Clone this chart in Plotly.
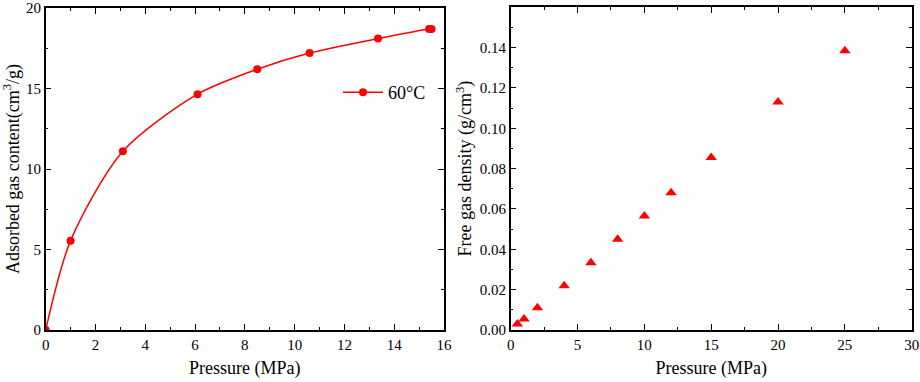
import plotly.graph_objects as go

# Left panel data: adsorbed gas content at 60°C
pressure_ads = [0.0, 1.0, 3.1, 6.1, 8.5, 10.6, 13.35, 15.4, 15.5]
adsorbed = [0.0, 5.55, 11.1, 14.65, 16.2, 17.2, 18.1, 18.7, 18.7]

# Right panel data: free gas density
pressure_free = [0.5, 1, 2, 4, 6, 8, 10, 12, 15, 20, 25]
density = [0.003, 0.0055, 0.011, 0.022, 0.0333, 0.045, 0.0565, 0.068, 0.0855, 0.113, 0.1385]

FONT = "Times New Roman"
W, H = 920, 382

fig = go.Figure()

fig.add_trace(go.Scatter(
    x=pressure_ads, y=adsorbed, mode="lines+markers", name="60°C",
    line=dict(color="#ff0000", width=1.5, shape="spline", smoothing=0.8),
    marker=dict(color="#ff0000", size=8, symbol="circle"),
    xaxis="x", yaxis="y", showlegend=True,
))

fig.add_trace(go.Scatter(
    x=pressure_free, y=density, mode="markers", name="density",
    marker=dict(color="#ff0000", size=10, symbol="triangle-up"),
    xaxis="x2", yaxis="y2", showlegend=False,
))

yb = 1 - 330 / H
yt = 1 - 8 / H

common = dict(
    showline=True, linecolor="black", linewidth=1.5, mirror="allticks",
    ticks="inside", ticklen=6, tickwidth=1.3, tickcolor="black",
    showgrid=False, zeroline=False, automargin=False,
    tickfont=dict(family=FONT, size=15, color="black"),
    title_font=dict(family=FONT, size=18, color="black"),
)

fig.update_layout(
    width=W, height=H,
    margin=dict(l=0, r=0, t=0, b=0, autoexpand=False),
    paper_bgcolor="white", plot_bgcolor="white",
    font=dict(family=FONT, color="black"),
    xaxis=dict(domain=[45.7 / W, 444 / W], range=[0, 16], dtick=2, anchor="y",
               title=dict(text="Pressure (MPa)", standoff=10),
               minor=dict(ticks="inside", ticklen=3, dtick=1, tickcolor="black"),
               **common),
    yaxis=dict(domain=[yb, yt], range=[0, 20], dtick=5, anchor="x",
               title=dict(text="Adsorbed gas content(cm<sup>3</sup>/g)", standoff=8),
               minor=dict(ticks="inside", ticklen=3, dtick=2.5, tickcolor="black"),
               **common),
    xaxis2=dict(domain=[510.7 / W, 911.7 / W], range=[0, 30], dtick=5, anchor="y2",
                title=dict(text="Pressure (MPa)", standoff=10),
                minor=dict(ticks="inside", ticklen=3, dtick=2.5, tickcolor="black"),
                **common),
    yaxis2=dict(domain=[yb, 1 - 7.3 / H], range=[0, 0.16], dtick=0.02, tickformat=".2f",
                anchor="x2",
                title=dict(text="Free gas density (g/cm<sup>3</sup>)", standoff=3),
                minor=dict(ticks="inside", ticklen=3, dtick=0.01, tickcolor="black"),
                **common),
    legend=dict(x=338 / W, y=1 - 74 / H, xanchor="left", yanchor="top",
                bgcolor="rgba(0,0,0,0)", borderwidth=0,
                font=dict(family=FONT, size=18, color="black"),
                itemwidth=40),
)

fig.write_html("out.html", config={"displayModeBar": False},
               post_script="document.body.style.margin='0';")
